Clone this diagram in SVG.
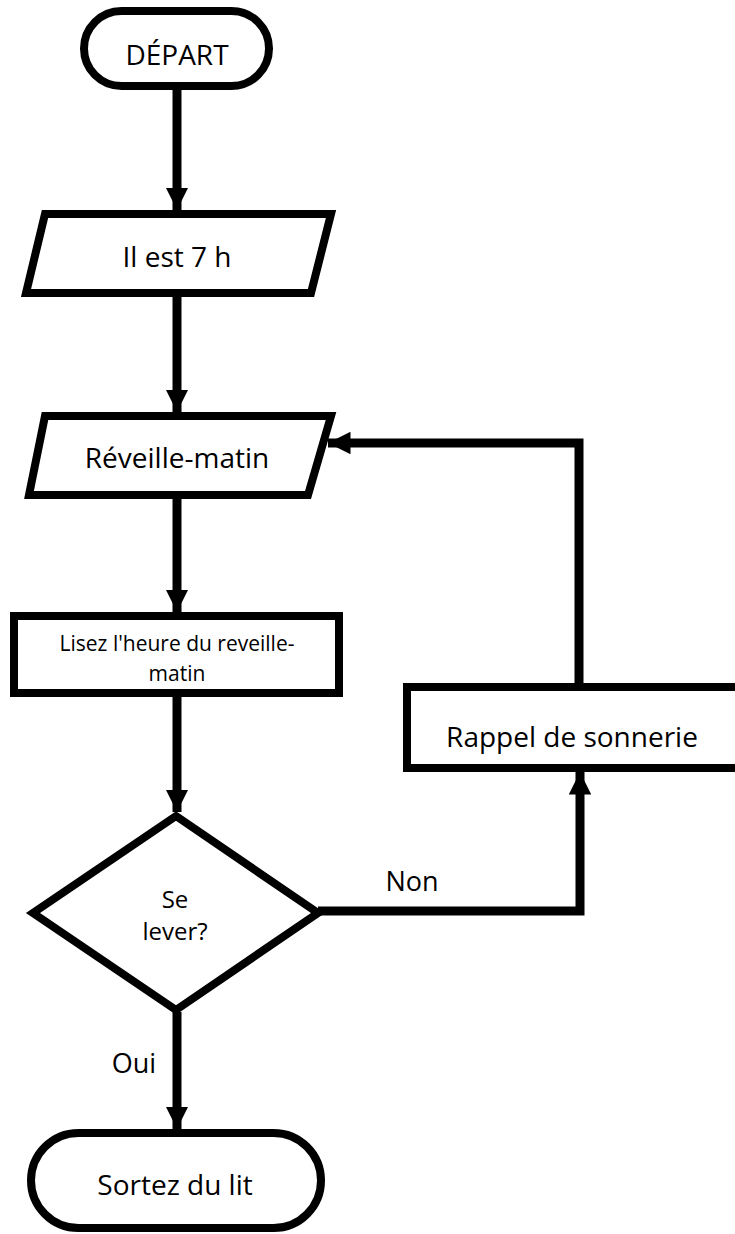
<svg xmlns="http://www.w3.org/2000/svg" width="735" height="1234" viewBox="0 0 735 1234">
<style>
.shape{fill:#fff;stroke:#000;stroke-width:8;stroke-linejoin:miter}
.lbl{font-family:"Open Sans","Liberation Sans",sans-serif;fill:#000;text-anchor:middle}
.big{font-size:28px}
.lab{font-size:27px}
.small{font-size:21px}
.mid{font-size:24px}
.edge{fill:none;stroke:#000;stroke-width:9}
</style>
<defs>
<marker id="ah" viewBox="0 0 10 10" refX="10" refY="5" markerWidth="2.5" markerHeight="2.5" markerUnits="strokeWidth" orient="auto">
<path d="M0,0 L10,5 L0,10 Z" fill="#000"/>
</marker>
</defs>
<g id="connectors">
<line class="edge" x1="177" y1="90" x2="177" y2="210" marker-end="url(#ah)"/>
<line class="edge" x1="177" y1="297" x2="177" y2="412" marker-end="url(#ah)"/>
<line class="edge" x1="177" y1="499" x2="177" y2="612" marker-end="url(#ah)"/>
<line class="edge" x1="177" y1="697" x2="177" y2="812" marker-end="url(#ah)"/>
<line class="edge" x1="177" y1="1012" x2="177" y2="1129" marker-end="url(#ah)"/>
<polyline class="edge" points="318,911 580,911 580,772" marker-end="url(#ah)"/>
<polyline class="edge" points="579,684 579,443 328,443" marker-end="url(#ah)"/>
</g>
<g id="start">
<rect class="shape" x="84" y="11" width="185" height="75" rx="37.5"/>
<text class="lbl big" x="177" y="65">DÉPART</text>
</g>
<g id="il-est-7h">
<polygon class="shape" points="45,214 331,214 311,293 26,293"/>
<text class="lbl big" x="177" y="267">Il est 7 h</text>
</g>
<g id="reveille-matin">
<polygon class="shape" points="45,416 331,416 308,495 29,495"/>
<text class="lbl big" x="177" y="468">Réveille-matin</text>
</g>
<g id="lisez">
<rect class="shape" x="14" y="616" width="325" height="77"/>
<text class="lbl small" x="177" y="651">Lisez l'heure du reveille-</text>
<text class="lbl small" x="177" y="681">matin</text>
</g>
<g id="se-lever">
<polygon class="shape" points="176,816 318,913 176,1010 33,913"/>
<text class="lbl mid" x="175" y="908">Se</text>
<text class="lbl mid" x="175" y="940">lever?</text>
</g>
<g id="rappel">
<rect class="shape" x="407" y="687" width="340" height="81"/>
<text class="lbl big" x="572" y="747">Rappel de sonnerie</text>
</g>
<g id="sortez">
<rect class="shape" x="31" y="1133" width="290" height="95" rx="47.5"/>
<text class="lbl big" x="175" y="1195">Sortez du lit</text>
</g>
<g id="labels">
<text class="lbl lab" x="412" y="891">Non</text>
<text class="lbl lab" x="134" y="1073">Oui</text>
</g>
</svg>
